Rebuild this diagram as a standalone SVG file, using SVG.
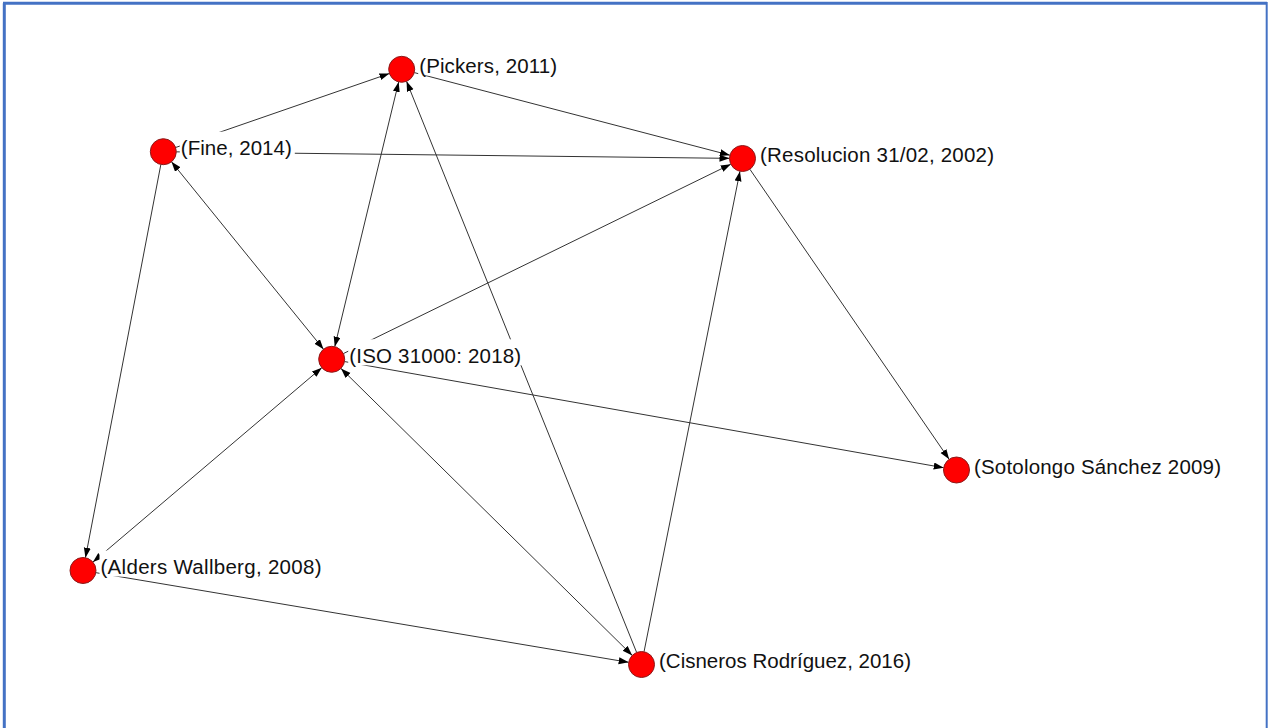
<svg xmlns="http://www.w3.org/2000/svg" width="1268" height="728" viewBox="0 0 1268 728">
<style>
.edge{stroke:#333;stroke-width:1;fill:none}
.lbl{font-family:"Liberation Sans",Arial,sans-serif;font-size:20.5px;fill:#111}
.bg{fill:#fff}
.node{fill:#f00;stroke:#8b1a1a;stroke-width:1}
.frame{stroke:#4472c4;fill:none}
</style>
<defs>
<marker id="arr" markerUnits="userSpaceOnUse" markerWidth="11" markerHeight="8" refX="10" refY="3.5" orient="auto-start-reverse" viewBox="0 0 11 8">
<path d="M0,0 L10,3.5 L0,7 z" fill="#000"/>
</marker>
</defs>
<rect width="1268" height="728" fill="#fff"/>
<line class="frame" x1="4.3" y1="728" x2="4.3" y2="3.3" stroke-width="3"/>
<line class="frame" x1="3" y1="3.3" x2="1267" y2="3.3" stroke-width="3"/>
<line class="frame" x1="1266.7" y1="2" x2="1266.7" y2="728" stroke-width="2"/>
<g id="connectors">
<line class="edge" x1="175.6" y1="147.5" x2="389.4" y2="73.5" marker-end="url(#arr)"/>
<line class="edge" x1="176.3" y1="151.85" x2="729.5" y2="158.35" marker-end="url(#arr)"/>
<line class="edge" x1="160.85" y1="164.47" x2="85.45" y2="557.73" marker-end="url(#arr)"/>
<line class="edge" x1="171.49" y1="161.8" x2="323.5" y2="349.2" marker-start="url(#arr)" marker-end="url(#arr)"/>
<line class="edge" x1="398.65" y1="81.94" x2="334.75" y2="346.66" marker-start="url(#arr)" marker-end="url(#arr)"/>
<line class="edge" x1="414.3" y1="72.6" x2="729.9" y2="155.2" marker-end="url(#arr)"/>
<line class="edge" x1="636.64" y1="652.44" x2="406.56" y2="81.36" marker-end="url(#arr)"/>
<line class="edge" x1="340.96" y1="368.42" x2="632.24" y2="655.38" marker-start="url(#arr)" marker-end="url(#arr)"/>
<line class="edge" x1="343.38" y1="353.59" x2="730.8" y2="164.2" marker-end="url(#arr)"/>
<line class="edge" x1="344.5" y1="361.57" x2="943.7" y2="467.73" marker-end="url(#arr)"/>
<line class="edge" x1="92.91" y1="562.09" x2="321.79" y2="367.71" marker-start="url(#arr)" marker-end="url(#arr)"/>
<line class="edge" x1="95.82" y1="572.66" x2="628.68" y2="662.34" marker-end="url(#arr)"/>
<line class="edge" x1="644.04" y1="651.75" x2="739.96" y2="171.25" marker-end="url(#arr)"/>
<line class="edge" x1="749.86" y1="169.21" x2="949.14" y2="459.29" marker-end="url(#arr)"/>
</g>
<g id="node-pickers">
<rect class="bg" x="418.2" y="49.3" width="142" height="26"/>
<text class="lbl" x="419.2" y="72.8" textLength="138">(Pickers, 2011)</text>
<circle class="node" cx="401.7" cy="69.3" r="13"/>
</g>
<g id="node-fine">
<rect class="bg" x="179.8" y="131.7" width="115" height="26"/>
<text class="lbl" x="180.8" y="155.2" textLength="111">(Fine, 2014)</text>
<circle class="node" cx="163.3" cy="151.7" r="13"/>
</g>
<g id="node-resolucion">
<rect class="bg" x="759" y="138.5" width="238" height="26"/>
<text class="lbl" x="760" y="162" textLength="234">(Resolucion 31/02, 2002)</text>
<circle class="node" cx="742.5" cy="158.5" r="13"/>
</g>
<g id="node-iso">
<rect class="bg" x="348.2" y="339.3" width="176" height="26"/>
<text class="lbl" x="349.2" y="362.8" textLength="172">(ISO 31000: 2018)</text>
<circle class="node" cx="331.7" cy="359.3" r="13"/>
</g>
<g id="node-sotolongo">
<rect class="bg" x="973" y="450" width="251" height="26"/>
<text class="lbl" x="974" y="473.5" textLength="247">(Sotolongo Sánchez 2009)</text>
<circle class="node" cx="956.5" cy="470" r="13"/>
</g>
<g id="node-alders">
<rect class="bg" x="99.5" y="550.5" width="225" height="26"/>
<text class="lbl" x="100.5" y="574" textLength="221">(Alders Wallberg, 2008)</text>
<circle class="node" cx="83" cy="570.5" r="13"/>
</g>
<g id="node-cisneros">
<rect class="bg" x="658" y="644.5" width="256" height="26"/>
<text class="lbl" x="659" y="668" textLength="252">(Cisneros Rodríguez, 2016)</text>
<circle class="node" cx="641.5" cy="664.5" r="13"/>
</g>
</svg>
